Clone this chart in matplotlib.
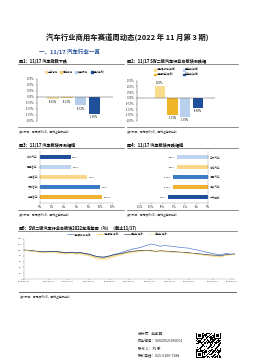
import numpy as np
import pandas as pd
import matplotlib
matplotlib.use("Agg")
import matplotlib.pyplot as plt
from matplotlib.patches import Patch
from matplotlib.lines import Line2D

plt.rcParams["font.family"] = ["Noto Sans CJK SC", "DejaVu Sans"]
plt.rcParams["axes.unicode_minus"] = False

W, H = 255, 362

# ---- data ----
idx_names = ["上证综指", "深证成指", "创业板指", "汽车(申万)"]
idx_chg = [-0.16, -0.13, -0.72, -1.45]
idx_colors = ["#F7DC9A", "#F2CB6A", "#B4CDEB", "#1F4E9A"]

sw_names = ["汽车零部件(申万)", "汽车服务(申万)", "乘用车(申万)", "商用车(申万)"]
sw_chg = [1.02, -1.53, -1.68, -0.88]
sw_colors = ["#F8DC8E", "#F0B429", "#B9D0EC", "#1F4E9A"]

up_names = ["泉峰汽车", "亚星客车", "中通客车", "安凯客车", "宇通客车"]
up_chg = [5.02, 5.10, 7.68, 9.85, 10.12]
up_colors = ["#1F4E9A", "#BDD3EE", "#F8D888", "#3B7CC4", "#F0B030"]

down_names = ["东风汽车", "江淮汽车", "福田汽车", "江铃汽车", "一汽解放"]
down_chg = [-5.51, -5.53, -6.21, -6.24, -7.12]
down_colors = ["#BDD3EE", "#F8D888", "#3B7CC4", "#F0B030", "#1F4E9A"]

trend_names = ["汽车零部件(申万)", "汽车服务(申万)", "乘用车(申万)", "商用车(申万)"]
trend_colors = ["#4472C4", "#F0B429", "#1F3864", "#F8E08E"]
parts = [100, 98, 97, 95, 93, 94, 95, 94, 92, 90, 93, 91, 92, 88, 86, 80, 76, 74, 78, 84, 88, 93, 98,
         103, 106, 110, 115, 121, 118, 113, 116, 114, 112, 110, 108, 107, 103, 100, 96, 92, 89, 86, 84, 88, 86, 87]
service = [100, 98, 96, 94, 92, 93, 94, 92, 90, 88, 90, 88, 89, 85, 82, 76, 72, 71, 74, 79, 83, 87, 91,
           94, 96, 98, 100, 99, 96, 98, 97, 96, 95, 93, 92, 90, 88, 86, 84, 82, 80, 79, 78, 82, 84, 85]
passenger = [100, 99, 97, 96, 94, 95, 96, 95, 93, 91, 92, 90, 91, 88, 85, 80, 77, 76, 79, 83, 86, 89, 93,
             96, 97, 99, 99, 98, 95, 97, 96, 95, 94, 93, 92, 91, 89, 88, 86, 84, 83, 82, 80, 84, 85, 86]
commercial = [100, 97, 95, 93, 90, 91, 92, 90, 88, 86, 88, 86, 86, 82, 79, 72, 68, 66, 70, 75, 80, 84, 88,
              91, 93, 95, 97, 96, 93, 95, 94, 93, 92, 91, 90, 88, 87, 85, 83, 81, 79, 78, 77, 81, 83, 84]
trend_dates = pd.date_range("2022-01-04", periods=len(parts), freq="7D")
trend_ticks = ["2022-01-04", "2022-02-10", "2022-03-11", "2022-04-11", "2022-05-12", "2022-06-10",
               "2022-07-11", "2022-08-09", "2022-09-07", "2022-10-13", "2022-11-10"]

contact = ["分析师：赵乾明", "执业编号：S0020521060001", "联系人：刘 乐", "联系电话：021-5109-7188"]

fig = plt.figure(figsize=(W / 100, H / 100), dpi=100)
fig.patch.set_facecolor("white")


def axes_px(x0, y0, x1, y1):
    return fig.add_axes([x0 / W, 1 - y1 / H, (x1 - x0) / W, (y1 - y0) / H])


def text_px(x, y, s, **kw):
    fig.text(x / W, 1 - y / H, s, **kw)


def hline_px(x0, x1, y, lw=0.4, color="#333333"):
    fig.add_artist(Line2D([x0 / W, x1 / W], [1 - y / H, 1 - y / H], lw=lw, color=color,
                          transform=fig.transFigure))


def style(ax, fs=1.9):
    for s in ax.spines.values():
        s.set_visible(False)
    ax.tick_params(labelsize=fs, length=0.8, width=0.25, pad=0.8, colors="#333333")


# ---- header ----
text_px(127, 38, "汽车行业商用车赛道周动态(2022 年 11 月第 3 期)", ha="center", va="center",
        fontsize=5.3, fontweight="bold", color="#111111")
text_px(39, 51.5, "一、11/17 汽车行业一览", ha="left", va="center", fontsize=4.0,
        fontweight="bold", color="#1F4E9A")

# ---- figure 1 ----
text_px(19, 61, "图1：11/17 汽车指数下跌", ha="left", va="center", fontsize=3.0, fontweight="bold")
hline_px(18, 124, 64)
ax1 = axes_px(37, 79, 113, 120.7)
style(ax1)
x1 = np.arange(len(idx_chg))
ax1.bar(x1, idx_chg, width=0.85, color=idx_colors)
ax1.axhline(0, color="#555555", lw=0.35)
ax1.set_xlim(-1.17, 4.35)
ax1.set_ylim(-2.0, 1.5)
ax1.set_yticks(np.arange(-2.0, 1.51, 0.5))
ax1.set_yticklabels([f"{v:.2f}%" for v in np.arange(-2.0, 1.51, 0.5)])
ax1.set_xticks([])
ax1.spines["left"].set_visible(True)
ax1.spines["left"].set_linewidth(0.25)
for xi, v in zip(x1, idx_chg):
    ax1.text(xi, v - 0.1, f"{v:.2f}%", ha="center", va="top", fontsize=1.8)
ax1.legend([Patch(color=c) for c in idx_colors], idx_names, loc="center",
           bbox_to_anchor=((37 + 113) / 2 / W, 1 - 72 / H), bbox_transform=fig.transFigure,
           ncol=4, fontsize=1.8, frameon=False, handlelength=0.8, handleheight=0.8,
           handletextpad=0.3, columnspacing=1.0)
hline_px(18, 124, 126.7)
text_px(19, 131, "资料来源：同花顺iFinD，国元证券研究所", ha="left", va="center", fontsize=2.0, color="#333333")

# ---- figure 2 ----
text_px(127, 61, "图2：11/17 SW二级汽车行业各板块涨跌幅", ha="left", va="center", fontsize=3.0, fontweight="bold")
hline_px(127, 238, 64)
ax2 = axes_px(137, 80.7, 215, 120.7)
style(ax2)
x2 = np.arange(len(sw_chg))
ax2.bar(x2, sw_chg, width=0.8, color=sw_colors)
ax2.axhline(0, color="#555555", lw=0.35)
ax2.set_xlim(-1.8, 4.34)
ax2.set_ylim(-2.0, 1.5)
ax2.set_yticks(np.arange(-2.0, 1.51, 0.5))
ax2.set_yticklabels([f"{v:.2f}%" for v in np.arange(-2.0, 1.51, 0.5)])
ax2.set_xticks([])
ax2.spines["left"].set_visible(True)
ax2.spines["left"].set_linewidth(0.25)
for xi, v in zip(x2, sw_chg):
    if v >= 0:
        ax2.text(xi, v + 0.1, f"{v:.2f}%", ha="center", va="bottom", fontsize=1.8)
    else:
        ax2.text(xi, v - 0.1, f"{v:.2f}%", ha="center", va="top", fontsize=1.8)
ax2.legend([Patch(color=c) for c in sw_colors], sw_names, loc="center",
           bbox_to_anchor=(177 / W, 1 - 72 / H), bbox_transform=fig.transFigure,
           ncol=2, fontsize=1.8, frameon=False, handlelength=0.8, handleheight=0.8,
           handletextpad=0.3, columnspacing=2.5, labelspacing=0.3)
hline_px(127, 238, 126.7)
text_px(127, 131, "资料来源：同花顺iFinD，国元证券研究所", ha="left", va="center", fontsize=2.0, color="#333333")

# ---- figure 3 ----
text_px(19, 145, "图3：11/17 汽车板块月涨幅榜", ha="left", va="center", fontsize=3.0, fontweight="bold")
hline_px(18, 124, 148)
ax3 = axes_px(40, 151, 113, 203)
style(ax3)
y3 = np.arange(len(up_chg))
ax3.barh(y3, up_chg, height=0.42, color=up_colors)
ax3.set_ylim(4.6, -0.6)
ax3.set_xlim(0, 12)
ax3.set_xticks(range(0, 13, 2))
ax3.set_xticklabels([f"{v}%" for v in range(0, 13, 2)])
ax3.set_yticks(y3)
ax3.set_yticklabels(up_names)
for s in ("left", "bottom"):
    ax3.spines[s].set_visible(True)
    ax3.spines[s].set_linewidth(0.25)
    ax3.spines[s].set_color("#888888")
for yi, v in zip(y3, up_chg):
    ax3.text(v + 0.3, yi, f"{v:.2f}%", ha="left", va="center", fontsize=1.7)
hline_px(18, 124, 210)
text_px(19, 214, "资料来源：同花顺iFinD，国元证券研究所", ha="left", va="center", fontsize=2.0, color="#333333")

# ---- figure 4 ----
text_px(127, 145, "图4：11/17 汽车板块月跌幅榜", ha="left", va="center", fontsize=3.0, fontweight="bold")
hline_px(127, 238, 148)
ax4 = axes_px(140, 151, 208, 203)
style(ax4)
y4 = np.arange(len(down_chg))
ax4.barh(y4, down_chg, height=0.42, color=down_colors)
ax4.set_ylim(4.6, -0.6)
ax4.set_xlim(-12, 0)
ax4.set_xticks(range(-12, 1, 2))
ax4.set_xticklabels([f"{v}%" for v in range(-12, 1, 2)])
ax4.yaxis.tick_right()
ax4.set_yticks(y4)
ax4.set_yticklabels(down_names)
for s in ("right", "bottom"):
    ax4.spines[s].set_visible(True)
    ax4.spines[s].set_linewidth(0.25)
    ax4.spines[s].set_color("#888888")
for yi, v in zip(y4, down_chg):
    ax4.text(v - 0.3, yi, f"{v:.2f}%", ha="right", va="center", fontsize=1.7)
hline_px(127, 238, 210)
text_px(127, 214, "资料来源：同花顺iFinD，国元证券研究所", ha="left", va="center", fontsize=2.0, color="#333333")

# ---- figure 5 ----
text_px(19, 228, "图5：SW二级汽车行业各板块2022年走势图（%）（截止11/17）", ha="left", va="center",
        fontsize=3.0, fontweight="bold")
hline_px(18, 237, 231)
ax5 = axes_px(24, 238.5, 235, 279)
style(ax5, fs=1.7)
for series, c, name in zip([parts, service, passenger, commercial], trend_colors, trend_names):
    ax5.plot(trend_dates, series, color=c, lw=0.45, label=name)
ax5.set_ylim(0, 140)
ax5.set_yticks(range(0, 141, 20))
ax5.set_xlim(trend_dates[0], trend_dates[-1])
ax5.set_xticks(pd.to_datetime(trend_ticks))
ax5.set_xticklabels(trend_ticks)
for s in ("left", "bottom"):
    ax5.spines[s].set_visible(True)
    ax5.spines[s].set_linewidth(0.25)
    ax5.spines[s].set_color("#888888")
ax5.legend(loc="center", bbox_to_anchor=(118 / W, 1 - 234 / H), bbox_transform=fig.transFigure,
           ncol=4, fontsize=1.7, frameon=False, handlelength=2.5, handletextpad=0.3, columnspacing=2.0)
hline_px(19, 236, 292, lw=0.5, color="#222222")
text_px(20, 296, "资料来源：同花顺iFinD，国元证券研究所", ha="left", va="center", fontsize=2.0, color="#333333")

# ---- footer ----
for i, line in enumerate(contact):
    text_px(138, 334.3 + i * 7, line, ha="left", va="center", fontsize=2.6, color="#222222")

# decorative QR block: deterministic bits from the contact text
bits = np.unpackbits(np.frombuffer("".join(contact * 4).encode("utf-8"), dtype=np.uint8))
qr = bits[:625].reshape(25, 25).astype(float)
for r0, c0 in [(0, 0), (0, 18), (18, 0)]:
    qr[r0:r0 + 7, c0:c0 + 7] = 1
    qr[r0 + 1:r0 + 6, c0 + 1:c0 + 6] = 0
    qr[r0 + 2:r0 + 5, c0 + 2:c0 + 5] = 1
axq = axes_px(195, 333, 222, 358)
axq.imshow(1 - qr, cmap="gray", interpolation="nearest", vmin=0, vmax=1)
axq.axis("off")

fig.savefig("out.png", dpi=100, facecolor="white")
